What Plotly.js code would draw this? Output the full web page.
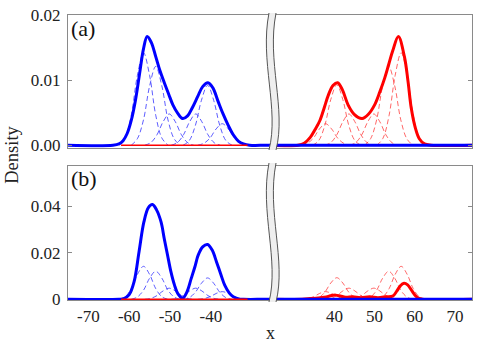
<!DOCTYPE html>
<html>
<head>
<meta charset="utf-8">
<script src="https://cdn.plot.ly/plotly-3.0.1.min.js"></script>
<style>html,body{margin:0;padding:0;background:#fff}</style>
</head>
<body>
<div id="chart" style="width:484px;height:347px"></div>
<script>
// density curves (x, density)
const blueA_x = [-75, -64, -62.5, -61.5, -60.5, -59.5, -58.5, -57.5, -56.5, -55.6, -54.6, -53.5, -52.5, -51.4, -50.3, -49.3, -48.1, -46.9, -45.7, -44.5, -43.2, -42, -40.7, -39.5, -38.2, -37, -35.7, -34.5, -33.2, -32, -30.5, -25.5, 24, 74.2];
const blueA_y = [0, 0, 0.0002, 0.0007, 0.0018, 0.0038, 0.0068, 0.0108, 0.0148, 0.0167, 0.0158, 0.0136, 0.0115, 0.0096, 0.0078, 0.0062, 0.0049, 0.0041, 0.0045, 0.0058, 0.0075, 0.0090, 0.0096, 0.0088, 0.0067, 0.0048, 0.0030, 0.0016, 0.0006, 0.0002, 0, 0, 0, 0];

const redA_x = [24, 31, 32.5, 34, 35.2, 36.4, 37.5, 38.5, 39.7, 40.8, 42, 43.4, 45, 46.9, 48.5, 50, 51.3, 52.5, 53.5, 54.5, 55.9, 57.4, 58.3, 59.1, 60.1, 61.1, 62.4, 64, 74.2];
const redA_y = [0, 0, 0.0003, 0.0012, 0.0024, 0.0038, 0.0058, 0.0077, 0.0092, 0.0096, 0.0085, 0.0062, 0.0047, 0.0041, 0.0048, 0.0062, 0.0082, 0.0103, 0.0124, 0.0145, 0.0167, 0.0136, 0.0098, 0.0057, 0.0027, 0.0010, 0.0002, 0, 0];

const blueB_x = [-75, -62.5, -61.3, -60, -58.8, -57.6, -56.4, -55.3, -54.3, -53.3, -52.2, -51.4, -50.6, -49.8, -48.9, -48, -46.9, -45.9, -44.8, -43.9, -43.1, -42, -40.8, -39.7, -38.6, -37.6, -36.6, -35.5, -34.5, -33.2, -32, -25.5, 24, 74.2];
const blueB_y = [0, 0, 0.0003, 0.002, 0.0076, 0.0204, 0.0333, 0.0395, 0.0408, 0.0385, 0.0333, 0.026, 0.019, 0.012, 0.0061, 0.0022, 0.0004, 0.003, 0.009, 0.014, 0.019, 0.0226, 0.0236, 0.0213, 0.0161, 0.011, 0.0061, 0.0028, 0.0011, 0.0002, 0, 0, 0, 0];

const redB_x = [24, 32, 34, 36, 38, 39, 40.3, 41.5, 42.8, 44.6, 46.5, 48.8, 50.8, 52.9, 54.5, 55.5, 56.4, 57.3, 58.2, 59.2, 60.3, 61.5, 74.2];
const redB_y = [0, 0, 0.0003, 0.0006, 0.001, 0.0015, 0.0018, 0.0014, 0.0009, 0.0011, 0.0007, 0.0011, 0.0007, 0.0011, 0.0014, 0.0035, 0.0058, 0.0069, 0.0062, 0.0038, 0.0013, 0.0002, 0];

// red trace at zero under the blue bumps on the left side
const redFloor_x = [-62, -31];
const redFloor_y = [0, 0];

// mixture components (dashed), same in both panels
const blueCompX = [
  [-62.5, -61, -59.5, -58, -56.5, -55, -53.5, -52, -50.5],
  [-59.5, -58, -56.5, -55, -53.5, -52, -50.5, -49, -47.5],
  [-56.2, -54.7, -53.2, -51.7, -50.2, -48.7, -47.2, -45.7, -44.2],
  [-49.7, -48.2, -46.7, -45.2, -43.7, -42.2, -40.7, -39.2, -37.7],
  [-46.8, -45.3, -43.8, -42.3, -40.8, -39.3, -37.8, -36.3, -34.8],
  [-43.2, -41.7, -40.2, -38.7, -37.2, -35.7, -34.2, -32.7, -31.2]
];
const blueCompY = [
  [0, 0.0011, 0.0046, 0.0107, 0.0142, 0.0107, 0.0046, 0.0011, 0],
  [0, 0.0010, 0.0039, 0.0091, 0.0121, 0.0091, 0.0039, 0.0010, 0],
  [0, 0.0004, 0.0016, 0.0036, 0.0048, 0.0036, 0.0016, 0.0004, 0],
  [0, 0.0004, 0.0016, 0.0036, 0.0048, 0.0036, 0.0016, 0.0004, 0],
  [0, 0.0007, 0.0030, 0.0069, 0.0092, 0.0069, 0.0030, 0.0007, 0],
  [0, 0.0003, 0.0011, 0.0025, 0.0033, 0.0025, 0.0011, 0.0003, 0]
];
const redCompX = [
  [31.8, 33.3, 34.8, 36.3, 37.8, 39.3, 40.8, 42.3, 43.8],
  [34.6, 36.1, 37.6, 39.1, 40.6, 42.1, 43.6, 45.1, 46.6],
  [37.6, 39.1, 40.6, 42.1, 43.6, 45.1, 46.6, 48.1, 49.6],
  [43.8, 45.3, 46.8, 48.3, 49.8, 51.3, 52.8, 54.3, 55.8],
  [47.5, 49, 50.5, 52, 53.5, 55, 56.5, 58, 59.5],
  [50.6, 52.1, 53.6, 55.1, 56.6, 58.1, 59.6, 61.1, 62.6]
];
const redCompY = [
  [0, 0.0003, 0.0011, 0.0025, 0.0033, 0.0025, 0.0011, 0.0003, 0],
  [0, 0.0007, 0.0030, 0.0070, 0.0093, 0.0070, 0.0030, 0.0007, 0],
  [0, 0.0004, 0.0016, 0.0036, 0.0048, 0.0036, 0.0016, 0.0004, 0],
  [0, 0.0004, 0.0016, 0.0036, 0.0048, 0.0036, 0.0016, 0.0004, 0],
  [0, 0.0010, 0.0039, 0.0091, 0.0121, 0.0091, 0.0039, 0.0010, 0],
  [0, 0.0011, 0.0046, 0.0107, 0.0142, 0.0107, 0.0046, 0.0011, 0]
];

const xTicksLeft = [-70, -60, -50, -40];
const xTicksLeftText = ['-70', '-60', '-50', '-40'];
const xTicksRight = [40, 50, 60, 70];

const BLUE = '#0000ff', RED = '#ff0000';
const BLUE_D = 'rgba(40,40,255,0.75)', RED_D = 'rgba(255,40,40,0.7)';

function line(x, y, xa, ya, color, width, dash) {
    return {
        x: x, y: y, xaxis: xa, yaxis: ya, type: 'scatter', mode: 'lines',
        line: {color: color, width: width, dash: dash || 'solid', shape: 'spline', smoothing: 1},
        hoverinfo: 'skip', showlegend: false
    };
}

const traces = [];
// panel (a)
blueCompX.forEach((cx, i) => traces.push(line(cx, blueCompY[i], 'x', 'y', BLUE_D, 1, '5px,3px')));
traces.push(line(blueA_x, blueA_y, 'x', 'y', BLUE, 3));
traces.push(line(redFloor_x, redFloor_y, 'x', 'y', RED, 1.5));
redCompX.forEach((cx, i) => traces.push(line(cx, redCompY[i], 'x2', 'y2', RED_D, 1, '5px,3px')));
traces.push(line(redA_x, redA_y, 'x2', 'y2', RED, 3));
traces.push(line(blueA_x, blueA_y, 'x2', 'y2', BLUE, 3));
// panel (b)
blueCompX.forEach((cx, i) => traces.push(line(cx, blueCompY[i], 'x3', 'y3', BLUE_D, 1, '5px,3px')));
traces.push(line(blueB_x, blueB_y, 'x3', 'y3', BLUE, 3));
traces.push(line(redFloor_x, redFloor_y, 'x3', 'y3', RED, 1.5));
redCompX.forEach((cx, i) => traces.push(line(cx, redCompY[i], 'x4', 'y4', RED_D, 1, '5px,3px')));
traces.push(line(redB_x, redB_y, 'x4', 'y4', RED, 3));
traces.push(line(blueB_x, blueB_y, 'x4', 'y4', BLUE, 3));

const serif = 'Liberation Serif';
const GRAY = '#8a8a8a';

function xax(domain, range, anchor, vals, text) {
    return {
        domain: domain, range: range, anchor: anchor, showline: true, linecolor: GRAY, linewidth: 1,
        mirror: true, ticks: '', showgrid: false, zeroline: false,
        showticklabels: !!vals, tickvals: vals || [], ticktext: text || vals || [], ticklabelstandoff: 1,
        tickfont: {family: serif, size: 17, color: '#222'}
    };
}
function yax(domain, range, anchor, side, vals, text) {
    return {
        domain: domain, range: range, anchor: anchor, side: side, showline: true, linecolor: GRAY,
        linewidth: 1, ticks: 'inside', ticklen: 4, tickcolor: GRAY, showgrid: false, zeroline: false,
        tickvals: vals, ticktext: text, showticklabels: side === 'left', ticklabelstandoff: 3,
        tickfont: {family: serif, size: 17, color: '#222'}
    };
}

const topDom = [0.534, 1], botDom = [0, 0.471];
const leftR = [-75, -25.5], rightR = [24, 74.2];
const rA = [-0.0004, 0.02], rB = [-0.0003, 0.0575];

// break marks: wavy gray band, positions in pixels converted to paper
const L = 68, W = 404, B = 300, H = 285;
const px = (x) => ((x - L) / W).toFixed(4);
const py = (y) => ((B - y) / H).toFixed(4);
function edge(off, t, b) {
    const h = b - t;
    return [[272.5 + off, t], [263 + off, t + h * 0.35], [283 + off, t + h * 0.7], [272.5 + off, b]];
}
function pt(p) { return px(p[0]) + ',' + py(p[1]); }
function band(t, b) {
    const le = edge(-3.5, t, b), re = edge(3.5, t, b);
    const fill = 'M' + pt(le[0]) + ' C' + pt(le[1]) + ' ' + pt(le[2]) + ' ' + pt(le[3]) +
        ' L' + pt(re[3]) + ' C' + pt(re[2]) + ' ' + pt(re[1]) + ' ' + pt(re[0]) + ' Z';
    const e1 = 'M' + pt(le[0]) + ' C' + pt(le[1]) + ' ' + pt(le[2]) + ' ' + pt(le[3]);
    const e2 = 'M' + pt(re[0]) + ' C' + pt(re[1]) + ' ' + pt(re[2]) + ' ' + pt(re[3]);
    return [
        {type: 'path', xref: 'paper', yref: 'paper', path: fill, fillcolor: '#efefef', line: {width: 0}},
        {type: 'path', xref: 'paper', yref: 'paper', path: e1, line: {color: '#555', width: 1}},
        {type: 'path', xref: 'paper', yref: 'paper', path: e2, line: {color: '#555', width: 1}}
    ];
}

const layout = {
    width: 484, height: 347,
    margin: {l: 68, r: 12, t: 15, b: 47},
    paper_bgcolor: '#fff', plot_bgcolor: '#fff',
    showlegend: false,
    font: {family: serif, color: '#222'},
    xaxis: xax([0, 0.5], leftR, 'y'),
    xaxis2: xax([0.5, 1], rightR, 'y2'),
    xaxis3: xax([0, 0.5], leftR, 'y3', xTicksLeft, xTicksLeftText),
    xaxis4: xax([0.5, 1], rightR, 'y4', xTicksRight),
    yaxis: yax(topDom, rA, 'x', 'left', [0, 0.01, 0.02], ['0.00', '0.01', '0.02']),
    yaxis2: yax(topDom, rA, 'x2', 'right', [0, 0.01, 0.02], ['0.00', '0.01', '0.02']),
    yaxis3: yax(botDom, rB, 'x3', 'left', [0, 0.02, 0.04], ['0', '0.02', '0.04']),
    yaxis4: yax(botDom, rB, 'x4', 'right', [0, 0.02, 0.04], ['0', '0.02', '0.04']),
    shapes: band(13, 150).concat(band(163, 302)),
    annotations: [
        {text: '(a)', xref: 'paper', yref: 'paper', x: 0.003, y: 1.005, xanchor: 'left', yanchor: 'top',
         showarrow: false, font: {family: serif, size: 22, color: '#111'}},
        {text: '(b)', xref: 'paper', yref: 'paper', x: 0.003, y: 0.476, xanchor: 'left', yanchor: 'top',
         showarrow: false, font: {family: serif, size: 22, color: '#111'}},
        {text: 'x', xref: 'paper', yref: 'paper', x: 0.5, y: -0.116, xanchor: 'center', yanchor: 'middle',
         showarrow: false, font: {family: serif, size: 18, color: '#222'}},
        {text: 'Density', xref: 'paper', yref: 'paper', x: -0.139, y: 0.509, xanchor: 'center', yanchor: 'middle',
         textangle: -90, showarrow: false, font: {family: serif, size: 18.5, color: '#222'}}
    ]
};

Plotly.newPlot('chart', traces, layout, {staticPlot: true, displayModeBar: false});
</script>
</body>
</html>
